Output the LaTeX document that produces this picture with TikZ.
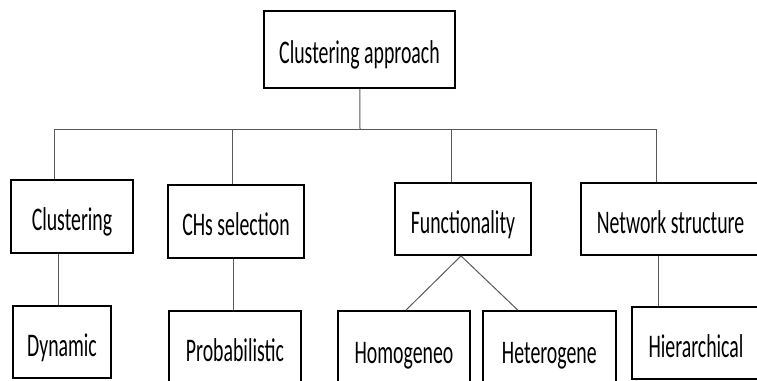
\documentclass[tikz,border=0pt]{standalone}
\usepackage{fontspec}
\setmainfont{Carlito}[FakeStretch=0.6]
\usetikzlibrary{positioning}

\begin{document}
\begin{tikzpicture}[x=1pt,y=-1pt,
    semithick,
    box/.style={rectangle,draw,line width=1.8pt,inner sep=0pt,
      minimum height=73pt,text height=28pt,text depth=0pt,
      font=\fontsize{33}{38}\selectfont},
    link/.style={draw=black!65,line width=1pt}
    ]
    \useasboundingbox (0,0) rectangle (757,380);
    \clip (0,0) rectangle (757,380);
    \node[box,minimum width=191pt,minimum height=77pt] (R) at (359.5,49.5) {Clustering approach};
    % second row
    \node[box,minimum width=122pt] (S1) at (72,216.5) {Clustering};
    \node[box,minimum width=136pt] (S2) at (236,221.5) {CHs selection};
    \node[box,minimum width=136pt,minimum height=72pt] (S3) at (463,219) {Functionality};
    \node[box,minimum width=179pt,minimum height=72pt] (S4) at (670.5,219) {Network structure};
    % third row
    \node[box,minimum width=98pt,minimum height=72pt] (T1) at (62,342) {Dynamic};
    \node[box,minimum width=132pt,minimum height=72pt] (T2) at (235,347) {Probabilistic};
    \node[box,minimum width=132pt,minimum height=76pt] (T3) at (404,349) {Homogeneo};
    \node[box,minimum width=133pt,minimum height=76pt] (T4) [right=11pt of T3] {Heterogene};
    \node[box,minimum width=128pt,minimum height=72pt] (T5) at (696,343) {Hierarchical};
    % tree lines
    \coordinate (J) at (360,129);
    \coordinate (B1) at (54,129);
    \coordinate (B2) at (232,129);
    \coordinate (B3) at (451,129);
    \coordinate (B4) at (656,129);
    \draw[link] (R) -- (J);
    \draw[link] (B1) -- (B4);
    \draw[link] (B1) -- (B1 |- S1.north);
    \draw[link] (B2) -- (B2 |- S2.north);
    \draw[link] (B3) -- (B3 |- S3.north);
    \draw[link] (B4) -- (B4 |- S4.north);
    \draw[link] ([xshift=-14pt]S1.south) -- ([xshift=-14pt]S1.south |- T1.north);
    \draw[link] ([xshift=-3pt]S2.south) -- ([xshift=-3pt]S2.south |- T2.north);
    \draw[link] ([xshift=-2pt]S3.south) -- ([xshift=2pt]T3.north);
    \draw[link] ([xshift=-2pt]S3.south) -- ([xshift=-31.5pt]T4.north);
    \draw[link] ([xshift=-12.5pt]S4.south) -- ([xshift=-12.5pt]S4.south |- T5.north);
\end{tikzpicture}
\end{document}
